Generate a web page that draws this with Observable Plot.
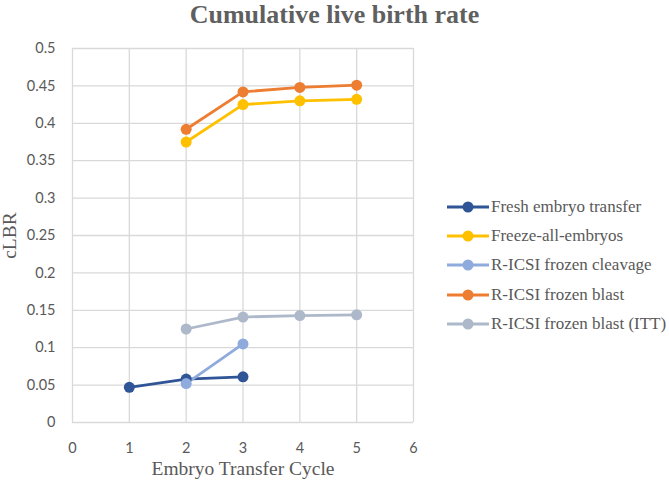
<!DOCTYPE html>
<html><head><meta charset="utf-8">
<script src="https://cdn.jsdelivr.net/npm/d3@7"></script>
<script src="https://cdn.jsdelivr.net/npm/@observablehq/plot@0.6"></script>
<style>
body{margin:0;background:#fff;font-family:"Liberation Serif",serif;}
#wrap{position:relative;width:669px;height:483px;}
#title{position:absolute;left:0;top:0px;width:669px;text-align:center;font-weight:bold;font-size:26px;color:#5f5f5f;line-height:30px;font-family:"Liberation Serif",serif;}
#legend{position:absolute;left:447px;top:192px;font-size:17px;color:#595959;font-family:"Liberation Serif",serif;}
.li{display:flex;align-items:center;height:29.3px;}
.li svg{margin-right:2px;}
#chart{position:absolute;left:0;top:0;}
#chart svg g[aria-label="x-axis tick label"] text, #chart svg g[aria-label="y-axis tick label"] text{font-family:Lato,"Liberation Sans",sans-serif !important;}
#chart svg g[aria-label="x-axis label"] text, #chart svg g[aria-label="y-axis label"] text{font-family:"Liberation Serif",serif !important;font-size:19.5px;}
</style></head>
<body><div id="wrap"><div id="chart"></div><div id="title">Cumulative live birth rate</div><div id="legend"></div></div>
<script>
const seriesNames = ["Fresh embryo transfer","Freeze-all-embryos","R-ICSI frozen cleavage","R-ICSI frozen blast","R-ICSI frozen blast (ITT)"];
const seriesColors = ["#2F5597","#FFC000","#8FAADC","#ED7D31","#ADB9CA"];
const freshX = [1,2,3];
const freshY = [0.047,0.058,0.061];
const freezeX = [2,3,4,5];
const freezeY = [0.375,0.425,0.430,0.432];
const cleavageX = [2,3];
const cleavageY = [0.052,0.105];
const blastX = [2,3,4,5];
const blastY = [0.392,0.442,0.448,0.451];
const ittX = [2,3,4,5];
const ittY = [0.125,0.141,0.143,0.144];
const xTicks = [0,1,2,3,4,5,6];
const yTicks = [0,0.05,0.1,0.15,0.2,0.25,0.3,0.35,0.4,0.45,0.5];

const xs = [freshX,freezeX,cleavageX,blastX,ittX];
const ys = [freshY,freezeY,cleavageY,blastY,ittY];
const data = [];
seriesNames.forEach((s,i)=>xs[i].forEach((x,j)=>data.push({s, x, y: ys[i][j]})));
const grid = "#d9d9d9";
const plot = Plot.plot({
  width: 669, height: 483,
  marginLeft: 72, marginRight: 256, marginTop: 48, marginBottom: 61,
  style: {fontSize: "14.5px", color: "#595959", background: "#fff"},
  x: {domain: [0,6]},
  y: {domain: [0,0.5]},
  marks: [
    Plot.gridX(xTicks, {stroke: grid, strokeOpacity: 1, strokeWidth: 1.3}),
    Plot.gridY(yTicks, {stroke: grid, strokeOpacity: 1, strokeWidth: 1.3}),
    Plot.axisX({ticks: xTicks, tickSize: 0, tickPadding: 20, tickFormat: d=>String(d), label: "Embryo Transfer Cycle", labelAnchor: "center", labelOffset: 52, labelArrow: "none", fontSize: 14.5}),
    Plot.axisY({ticks: yTicks, tickSize: 0, tickPadding: 17, tickFormat: d=>String(+d.toFixed(2)), label: "cLBR", labelAnchor: "center", labelOffset: 70, labelArrow: "none", fontSize: 14.5}),
    ...seriesNames.map((n,i) => Plot.line(data.filter(d=>d.s===n), {x:"x", y:"y", stroke: seriesColors[i], strokeWidth: 2.8})),
    ...seriesNames.map((n,i) => Plot.dot(data.filter(d=>d.s===n), {x:"x", y:"y", fill: seriesColors[i], r: 5.5, stroke: "none"}))
  ]
});
document.getElementById("chart").appendChild(plot);

const lg = d3.select("#legend");
seriesNames.forEach((n,i)=>{
  const row = lg.append("div").attr("class","li");
  const s = row.append("svg").attr("width",42).attr("height",14);
  s.append("line").attr("x1",0).attr("x2",42).attr("y1",7).attr("y2",7).attr("stroke",seriesColors[i]).attr("stroke-width",2.8);
  s.append("circle").attr("cx",21).attr("cy",7).attr("r",5.5).attr("fill",seriesColors[i]);
  row.append("span").text(n);
});
</script></body></html>
